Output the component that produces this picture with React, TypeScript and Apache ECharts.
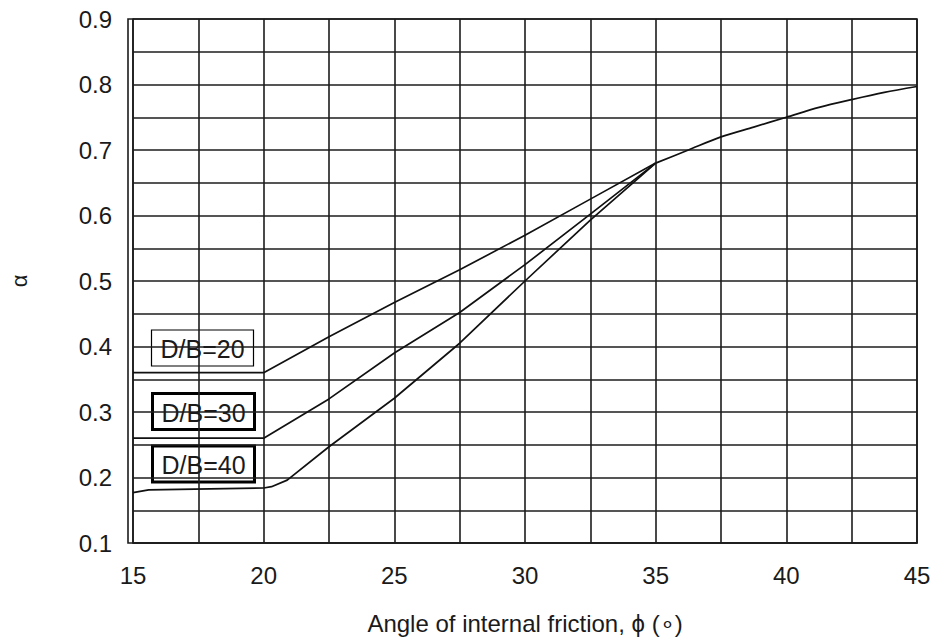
import React, { useEffect, useRef } from "react";
import * as echarts from "echarts";

// Bearing-capacity factor α against the angle of internal friction φ
const db20: [number, number][] = [
  [15, 0.36], [20, 0.36], [22.5, 0.415], [25, 0.467], [27.5, 0.517],
  [30, 0.57], [32.5, 0.625], [35, 0.68],
];
const db30: [number, number][] = [
  [15, 0.26], [20, 0.26], [22.5, 0.32], [25, 0.39], [27.5, 0.452],
  [30, 0.525], [32.5, 0.602], [35, 0.68],
];
const db40: [number, number][] = [
  [15, 0.177], [15.6, 0.181], [20, 0.184], [20.3, 0.186], [20.9, 0.196],
  [22.5, 0.247], [25, 0.321], [27.5, 0.405], [30, 0.5], [32.5, 0.593], [35, 0.68],
];
// Above φ = 35° all three ratios share one curve
const common: [number, number][] = [
  [35, 0.68], [36.25, 0.7], [37.5, 0.72], [38.75, 0.735], [40, 0.75],
  [41.25, 0.765], [42.5, 0.777], [43.75, 0.788], [45, 0.797],
];

const ratioLabels = ["D/B=20", "D/B=30", "D/B=40"];
const xTitle = "Angle of internal friction, \u03D5 (\u2218)";
const yTitle = "\u03B1";

const FONT = "'Liberation Sans', Arial, sans-serif";
const INK = "#1a1a1a";

export default function App() {
  const ref = useRef<HTMLDivElement>(null);

  useEffect(() => {
    if (!ref.current) return;
    const chart = echarts.init(ref.current, null, { renderer: "svg" });

    const lineSeries = (data: [number, number][], smooth: number | boolean) => ({
      type: "line",
      data,
      smooth,
      symbol: "none",
      lineStyle: { color: "#111", width: 1.7 },
      silent: true,
    });

    const gridLine = { show: true, lineStyle: { color: "#1c1c1c", width: 1.6 } };

    const box = (label: string, cx: number, cy: number, border: number) => ({
      type: "group",
      x: cx,
      y: cy,
      children: [
        {
          type: "rect",
          shape: { x: -51, y: -18, width: 102, height: 36 },
          style: { fill: "#fff", stroke: "#000", lineWidth: border },
        },
        {
          type: "text",
          style: {
            text: label,
            x: 0,
            y: 1,
            align: "center",
            verticalAlign: "middle",
            font: `25px ${FONT}`,
            fill: INK,
          },
        },
      ],
    });

    chart.setOption({
      animation: false,
      backgroundColor: "#fff",
      grid: { left: 128, right: 21, top: 19, bottom: 100, containLabel: false },
      xAxis: {
        type: "value",
        min: 15,
        max: 45,
        interval: 5,
        name: xTitle,
        nameLocation: "middle",
        nameGap: 68,
        nameTextStyle: { fontFamily: FONT, fontSize: 24, color: INK },
        axisLine: { show: true, lineStyle: { color: "#1c1c1c", width: 1.6 } },
        axisTick: { show: false },
        axisLabel: { fontFamily: FONT, fontSize: 24, color: INK, margin: 20 },
        splitLine: gridLine,
        minorTick: { show: false, splitNumber: 2 },
        minorSplitLine: gridLine,
      },
      yAxis: {
        type: "value",
        min: 0.1,
        max: 0.9,
        interval: 0.1,
        name: yTitle,
        nameLocation: "middle",
        nameRotate: 90,
        nameGap: 103,
        nameTextStyle: { fontFamily: FONT, fontSize: 22, color: INK },
        axisLine: { show: true, lineStyle: { color: "#1c1c1c", width: 1.6 } },
        axisTick: { show: false },
        axisLabel: {
          fontFamily: FONT,
          fontSize: 24,
          color: INK,
          margin: 21,
          formatter: (v: number) => v.toFixed(1),
        },
        splitLine: gridLine,
        minorTick: { show: false, splitNumber: 2 },
        minorSplitLine: gridLine,
      },
      series: [
        lineSeries(db20, false),
        lineSeries(db30, false),
        lineSeries(db40, false),
        lineSeries(common, 0.3),
      ],
      graphic: [
        // top/right frame of the plot area
        {
          type: "rect",
          shape: { x: 128, y: 19, width: 789, height: 524 },
          style: { fill: "none", stroke: "#1c1c1c", lineWidth: 1.6 },
          silent: true,
        },
        box(ratioLabels[0], 202.5, 348, 1.2),
        box(ratioLabels[1], 203.5, 411.5, 3),
        box(ratioLabels[2], 203.5, 464, 3),
      ],
    });

    return () => chart.dispose();
  }, []);

  return (
    <div
      ref={ref}
      style={{ position: "absolute", left: 0, top: 0, width: 938, height: 643 }}
    />
  );
}
